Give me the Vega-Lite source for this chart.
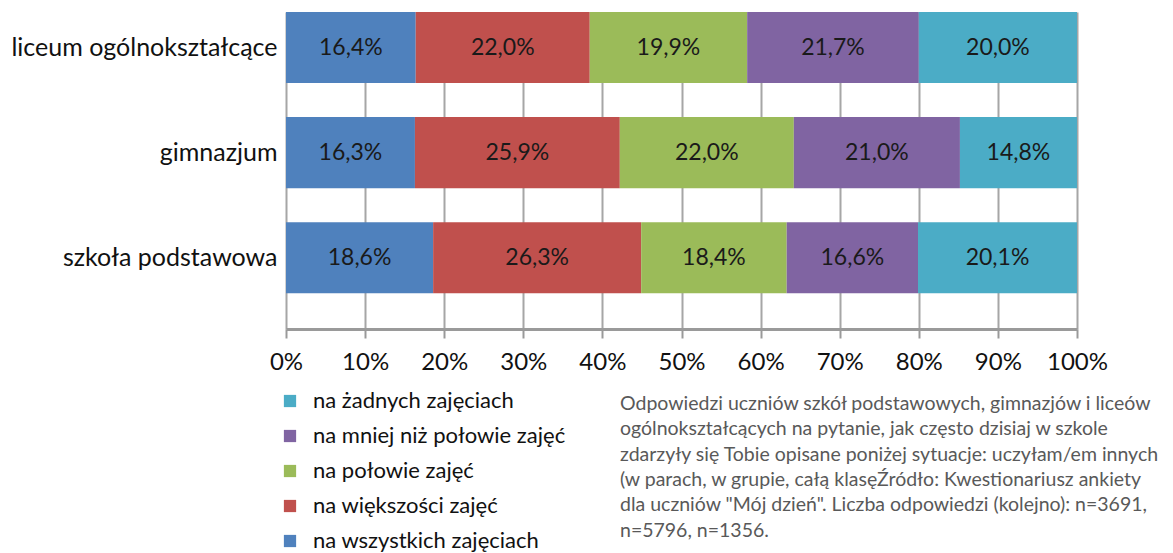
{
  "$schema": "https://vega.github.io/schema/vega-lite/v6.json",
  "autosize": {"type": "none"},
  "width": 791,
  "height": 317,
  "padding": {"left": 286, "top": 12, "right": 96, "bottom": 224},
  "background": "white",
  "config": {
    "font": "Lato",
    "view": {"stroke": null},
    "axis": {"labelFont": "Lato", "labelColor": "#111111"}
  },
  "title": {
    "text": [
      "Odpowiedzi uczniów szkół podstawowych, gimnazjów i liceów",
      "ogólnokształcących na pytanie, jak często dzisiaj w szkole",
      "zdarzyły się Tobie opisane poniżej sytuacje: uczyłam/em innych",
      "(w parach, w grupie, całą klasęŹródło: Kwestionariusz ankiety",
      "dla uczniów \"Mój dzień\". Liczba odpowiedzi (kolejno): n=3691,",
      "n=5796, n=1356."
    ],
    "orient": "bottom",
    "anchor": "start",
    "frame": "group",
    "align": "left",
    "baseline": "top",
    "dx": 334,
    "offset": -157,
    "font": "Lato",
    "fontSize": 19.5,
    "fontWeight": "normal",
    "lineHeight": 25.3,
    "color": "#595959"
  },
  "data": {
    "values": [
      {"school": "liceum ogólnokształcące", "answer": "na wszystkich zajęciach", "n": 1, "value": 16.4, "label": "16,4%"},
      {"school": "liceum ogólnokształcące", "answer": "na większości zajęć", "n": 2, "value": 22.0, "label": "22,0%"},
      {"school": "liceum ogólnokształcące", "answer": "na połowie zajęć", "n": 3, "value": 19.9, "label": "19,9%"},
      {"school": "liceum ogólnokształcące", "answer": "na mniej niż połowie zajęć", "n": 4, "value": 21.7, "label": "21,7%"},
      {"school": "liceum ogólnokształcące", "answer": "na żadnych zajęciach", "n": 5, "value": 20.0, "label": "20,0%"},
      {"school": "gimnazjum", "answer": "na wszystkich zajęciach", "n": 1, "value": 16.3, "label": "16,3%"},
      {"school": "gimnazjum", "answer": "na większości zajęć", "n": 2, "value": 25.9, "label": "25,9%"},
      {"school": "gimnazjum", "answer": "na połowie zajęć", "n": 3, "value": 22.0, "label": "22,0%"},
      {"school": "gimnazjum", "answer": "na mniej niż połowie zajęć", "n": 4, "value": 21.0, "label": "21,0%"},
      {"school": "gimnazjum", "answer": "na żadnych zajęciach", "n": 5, "value": 14.8, "label": "14,8%"},
      {"school": "szkoła podstawowa", "answer": "na wszystkich zajęciach", "n": 1, "value": 18.6, "label": "18,6%"},
      {"school": "szkoła podstawowa", "answer": "na większości zajęć", "n": 2, "value": 26.3, "label": "26,3%"},
      {"school": "szkoła podstawowa", "answer": "na połowie zajęć", "n": 3, "value": 18.4, "label": "18,4%"},
      {"school": "szkoła podstawowa", "answer": "na mniej niż połowie zajęć", "n": 4, "value": 16.6, "label": "16,6%"},
      {"school": "szkoła podstawowa", "answer": "na żadnych zajęciach", "n": 5, "value": 20.1, "label": "20,1%"}
    ]
  },
  "encoding": {
    "y": {
      "field": "school",
      "type": "nominal",
      "sort": ["liceum ogólnokształcące", "gimnazjum", "szkoła podstawowa"],
      "scale": {"paddingInner": 0.324, "paddingOuter": 0.17, "align": 0},
      "axis": {
        "title": null,
        "domain": false,
        "ticks": false,
        "labelFontSize": 25,
        "labelPadding": 9,
        "labelLimit": 400,
        "labelColor": "#111111"
      }
    }
  },
  "layer": [
    {
      "mark": {"type": "bar"},
      "encoding": {
        "x": {
          "field": "value",
          "type": "quantitative",
          "stack": "zero",
          "scale": {"domain": [0, 100], "nice": false},
          "axis": {
            "title": null,
            "values": [0, 10, 20, 30, 40, 50, 60, 70, 80, 90, 100],
            "labelExpr": "datum.value + '%'",
            "labelFontSize": 24,
            "labelPadding": 12,
            "labelColor": "#111111",
            "labelFlush": false,
            "grid": true,
            "gridColor": "#a6a6a6",
            "gridWidth": 2,
            "domainColor": "#9a9a9a",
            "domainWidth": 3,
            "tickColor": "#9a9a9a",
            "tickWidth": 2,
            "tickSize": 9
          }
        },
        "order": {"field": "n", "type": "quantitative"},
        "color": {
          "field": "answer",
          "type": "nominal",
          "scale": {
            "domain": ["na żadnych zajęciach", "na mniej niż połowie zajęć", "na połowie zajęć", "na większości zajęć", "na wszystkich zajęciach"],
            "range": ["#4BACC6", "#8064A2", "#9BBB59", "#C0504D", "#4F81BD"]
          },
          "legend": {
            "title": null,
            "orient": "none",
            "legendX": -7,
            "legendY": 378,
            "padding": 0,
            "symbolType": "square",
            "symbolSize": 150,
            "symbolStrokeWidth": 0,
            "labelFontSize": 22,
            "labelFont": "Lato",
            "labelColor": "#111111",
            "labelOffset": 12,
            "rowPadding": 13,
            "labelLimit": 400
          }
        }
      }
    },
    {
      "mark": {"type": "text", "fontSize": 23, "color": "#1a1a1a", "font": "Lato"},
      "encoding": {
        "x": {"field": "value", "type": "quantitative", "stack": "zero", "bandPosition": 0.5},
        "order": {"field": "n", "type": "quantitative"},
        "detail": {"field": "answer"},
        "text": {"field": "label"}
      }
    }
  ]
}
